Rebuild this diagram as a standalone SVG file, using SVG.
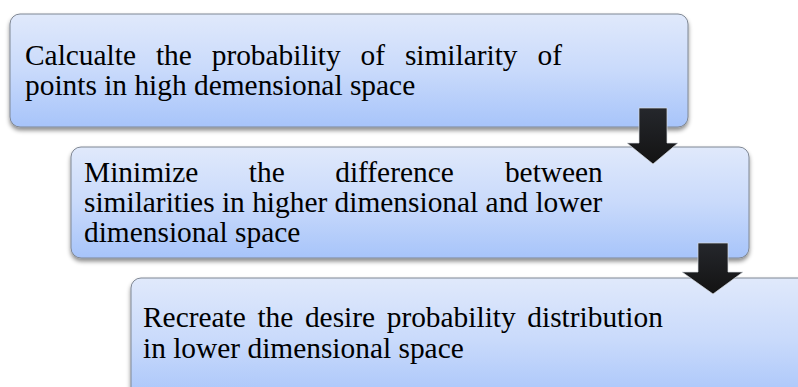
<svg xmlns="http://www.w3.org/2000/svg" width="798" height="387" viewBox="0 0 798 387">
  <defs>
    <linearGradient id="boxGrad" x1="0" y1="0" x2="0" y2="1">
      <stop offset="0" stop-color="#e0e9fb"/>
      <stop offset="0.5" stop-color="#c9dafb"/>
      <stop offset="1" stop-color="#a7c4fa"/>
    </linearGradient>
    <linearGradient id="arrowGrad" x1="0" y1="0" x2="0" y2="1">
      <stop offset="0" stop-color="#25272c"/>
      <stop offset="1" stop-color="#131313"/>
    </linearGradient>
    <filter id="shadow" x="-5%" y="-10%" width="110%" height="130%">
      <feDropShadow dx="0" dy="3" stdDeviation="2.2" flood-color="#000" flood-opacity="0.45"/>
    </filter>
  </defs>
  <style>
    .box { fill: url(#boxGrad); stroke: #7f8794; stroke-width: 1; filter: url(#shadow); }
    .txt { font-family: "Liberation Serif", "Times New Roman", serif; font-size: 29.4px; fill: #000; }
    .arrow { fill: url(#arrowGrad); stroke: #d9dde3; stroke-width: 1; stroke-opacity: 0.7; stroke-linejoin: miter; }
  </style>
  <rect width="798" height="387" fill="#fff"/>

  <g id="node1">
    <rect class="box" x="10" y="14" width="678" height="113" rx="10" ry="10"/>
    <text class="txt" y="65"><tspan x="25">Calcualte</tspan><tspan x="155.9">the</tspan><tspan x="211.7">probability</tspan><tspan x="360.5">of</tspan><tspan x="404.9">similarity</tspan><tspan x="537.5">of</tspan></text>
    <text class="txt" x="25" y="95">points in high demensional space</text>
  </g>

  <g id="node2">
    <rect class="box" x="71" y="147" width="678" height="111" rx="10" ry="10"/>
    <text class="txt" y="182"><tspan x="84">Minimize</tspan><tspan x="248.8">the</tspan><tspan x="335.2">difference</tspan><tspan x="504.9">between</tspan></text>
    <text class="txt" x="84" y="212">similarities in higher dimensional and lower</text>
    <text class="txt" x="84" y="242">dimensional space</text>
  </g>

  <g id="node3">
    <rect class="box" x="131" y="278" width="690" height="125" rx="10" ry="10"/>
    <text class="txt" y="327"><tspan x="143">Recreate</tspan><tspan x="257.4">the</tspan><tspan x="304.9">desire</tspan><tspan x="386.7">probability</tspan><tspan x="527.3">distribution</tspan></text>
    <text class="txt" x="143" y="358">in lower dimensional space</text>
  </g>

  <g id="connectors">
    <polygon class="arrow" points="639,108 667,108 667,143 678,143 653,164 627,143 639,143"/>
    <polygon class="arrow" points="698,243 728,243 728,272 743,272 713,294 682,272 698,272"/>
  </g>
</svg>
